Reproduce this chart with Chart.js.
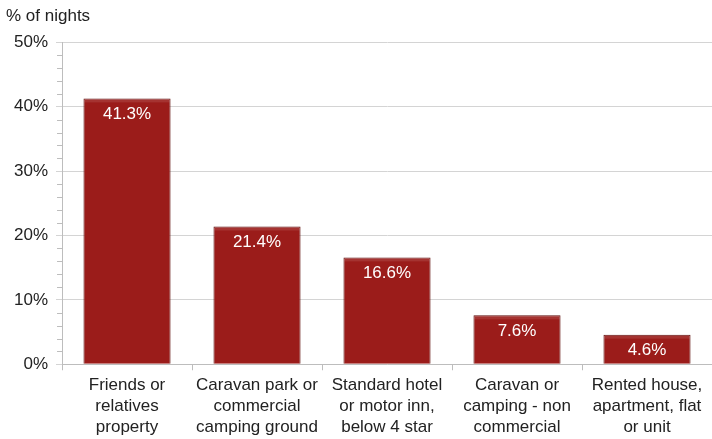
<!DOCTYPE html>
<html lang="en">
<head>
  <meta charset="UTF-8" />
  <title>Nights by accommodation type</title>
  <script src="https://cdn.jsdelivr.net/npm/chart.js"></script>
  <style>
    html, body { margin: 0; padding: 0; background: #fff; }
    #wrap { width: 712px; height: 439px; }
  </style>
</head>
<body>
  <div id="wrap"><canvas id="nightsChart"></canvas></div>

  <script>
    const categories = [
      ['Friends or', 'relatives', 'property'],
      ['Caravan park or', 'commercial', 'camping ground'],
      ['Standard hotel', 'or motor inn,', 'below 4 star'],
      ['Caravan or', 'camping - non', 'commercial'],
      ['Rented house,', 'apartment, flat', 'or unit']
    ];
    const nightShare = [41.3, 21.4, 16.6, 7.6, 4.6];
    const yTicks = [0, 10, 20, 30, 40, 50];
    const minorStep = 2;

    const FONT = "'Liberation Sans', Arial, sans-serif";

    // small ticks every 2% on the left axis, plus the value labels inside the bars
    const extras = {
      id: 'extras',
      afterDraw(chart) {
        const ctx = chart.ctx;
        const y = chart.scales.y;
        ctx.save();
        ctx.strokeStyle = '#bdbdbd';
        ctx.lineWidth = 1;
        for (let v = 0; v <= yTicks[yTicks.length - 1]; v += minorStep) {
          if (v % 10 === 0) continue;
          const py = Math.round(y.getPixelForValue(v)) + 0.5;
          ctx.beginPath();
          ctx.moveTo(y.right - 5, py);
          ctx.lineTo(y.right, py);
          ctx.stroke();
        }

        const meta = chart.getDatasetMeta(0);
        meta.data.forEach((bar, i) => {
          // soft bevel along the top of each bar
          const half = bar.width / 2;
          ctx.fillStyle = 'rgba(255,255,255,0.10)';
          ctx.fillRect(bar.x - half + 1, bar.y + 1, bar.width - 2, 3);

          ctx.fillStyle = '#ffffff';
          ctx.font = '17px ' + FONT;
          ctx.textAlign = 'center';
          ctx.textBaseline = 'middle';
          ctx.fillText(nightShare[i].toFixed(1) + '%', bar.x, bar.y + 16);
        });
        ctx.restore();
      }
    };

    new Chart(document.getElementById('nightsChart'), {
      type: 'bar',
      data: {
        labels: categories,
        datasets: [{
          data: nightShare,
          backgroundColor: '#9b1c1a',
          borderColor: '#5e0e0c',
          borderWidth: 1,
          categoryPercentage: 1,
          barPercentage: 0.67
        }]
      },
      options: {
        responsive: true,
        maintainAspectRatio: false,
        animation: false,
        layout: { padding: { left: 6, right: 0, top: 0, bottom: -3 } },
        plugins: {
          legend: { display: false },
          tooltip: { enabled: false },
          title: {
            display: true,
            text: '% of nights',
            align: 'start',
            color: '#222',
            font: { family: FONT, size: 17, weight: 'normal' },
            padding: { top: 6, bottom: 16 }
          }
        },
        scales: {
          x: {
            grid: {
              offset: true,
              drawOnChartArea: false,
              color: '#bdbdbd',
              tickLength: 6
            },
            border: { color: '#bdbdbd' },
            ticks: {
              color: '#222',
              font: { family: FONT, size: 17, lineHeight: 1.25 },
              maxRotation: 0,
              autoSkip: false,
              padding: 4
            }
          },
          y: {
            min: 0,
            max: 50,
            afterBuildTicks(scale) {
              scale.ticks = yTicks.map(v => ({ value: v }));
            },
            grid: {
              color: '#d4d4d4',
              tickLength: 6
            },
            border: { color: '#bdbdbd' },
            ticks: {
              color: '#222',
              font: { family: FONT, size: 17 },
              padding: 8,
              callback: v => v + '%'
            }
          }
        }
      },
      plugins: [extras]
    });
  </script>
</body>
</html>
